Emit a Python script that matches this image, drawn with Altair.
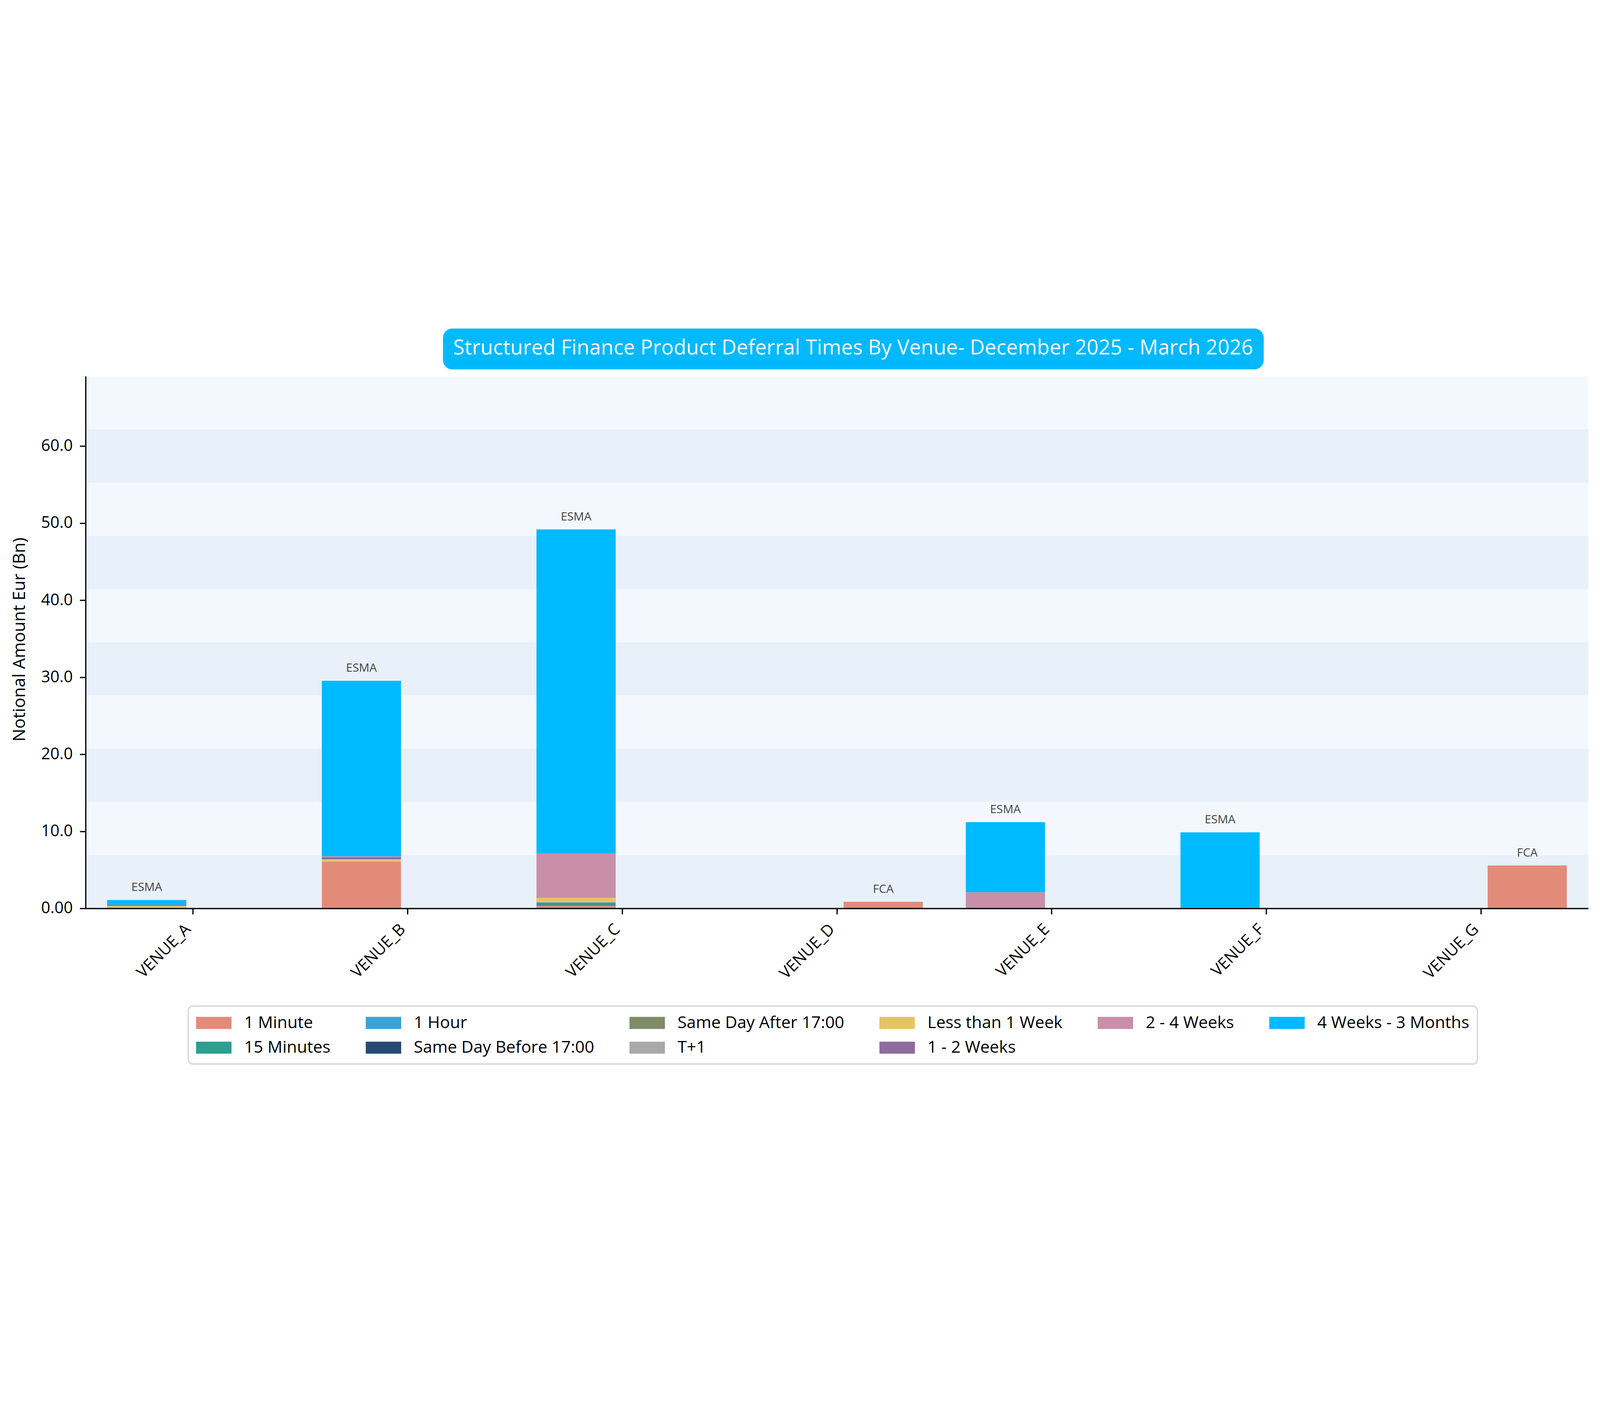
import altair as alt
import pandas as pd

FONT = "Open Sans"

venues = ["VENUE_A", "VENUE_B", "VENUE_C", "VENUE_D", "VENUE_E", "VENUE_F", "VENUE_G"]
regulators = ["ESMA", "ESMA", "ESMA", "FCA", "ESMA", "ESMA", "FCA"]
regulator_domain = ["ESMA", "FCA"]

categories = [
    "1 Minute", "15 Minutes", "1 Hour", "Same Day Before 17:00",
    "Same Day After 17:00", "T+1", "Less than 1 Week", "1 - 2 Weeks",
    "2 - 4 Weeks", "4 Weeks - 3 Months",
]
category_colors = [
    "#e38b79", "#2d9e8f", "#3ba3d4", "#264a73",
    "#7f8c66", "#a9a9a9", "#e3c567", "#8f6b9e",
    "#c98fa8", "#00baff",
]

# values (EUR bn) per category, in venue order
v_1min = [0.00, 6.06, 0.33, 0.87, 0.03, 0.14, 5.58]
v_15min = [0.00, 0.03, 0.37, 0.00, 0.00, 0.00, 0.00]
v_1hour = [0.00, 0.00, 0.07, 0.00, 0.00, 0.00, 0.00]
v_sd_before = [0.00, 0.00, 0.00, 0.00, 0.00, 0.00, 0.00]
v_sd_after = [0.00, 0.00, 0.03, 0.00, 0.00, 0.00, 0.00]
v_t1 = [0.00, 0.00, 0.02, 0.00, 0.00, 0.00, 0.00]
v_lt1w = [0.34, 0.29, 0.58, 0.00, 0.00, 0.00, 0.00]
v_1_2w = [0.15, 0.25, 0.05, 0.00, 0.00, 0.00, 0.00]
v_2_4w = [0.00, 0.14, 5.68, 0.00, 2.08, 0.00, 0.00]
v_4w_3m = [0.61, 22.78, 42.07, 0.00, 9.09, 9.74, 0.00]
series = [v_1min, v_15min, v_1hour, v_sd_before, v_sd_after, v_t1,
          v_lt1w, v_1_2w, v_2_4w, v_4w_3m]

# domain order chosen so Vega's column-major legend fill reads like the original:
# row 1: 1 Minute, 1 Hour, Same Day After, Less than 1 Week, 2 - 4 Weeks, 4 Weeks - 3 Months
# row 2: 15 Minutes, Same Day Before, T+1, 1 - 2 Weeks
legend_order = [
    "1 Minute", "4 Weeks - 3 Months", "1 Hour", "15 Minutes",
    "Same Day After 17:00", "Same Day Before 17:00", "Less than 1 Week", "T+1",
    "2 - 4 Weeks", "1 - 2 Weeks",
]
legend_colors = [category_colors[categories.index(c)] for c in legend_order]

y_ticks = [0, 10, 20, 30, 40, 50, 60]
y_max = 69.07
n_bands = 10

title_text = "Structured Finance Product Deferral Times By Venue- December 2025 - March 2026"
y_title = "Notional Amount Eur (Bn)"

rows = []
for ci, (cat, vals) in enumerate(zip(categories, series)):
    for vi, v in enumerate(venues):
        if vals[vi] > 0:
            rows.append({"venue": v, "regulator": regulators[vi], "category": cat,
                         "order": ci, "value": vals[vi]})
df = pd.DataFrame(rows)

band_h = y_max / n_bands
band_df = pd.DataFrame({
    "y0": [i * band_h for i in range(0, n_bands, 2)],
    "y1": [(i + 1) * band_h for i in range(0, n_bands, 2)],
})

W = 7208
H = 2552

x_scale = alt.Scale(domain=venues, paddingInner=0, paddingOuter=0)
xo_scale = alt.Scale(domain=regulator_domain, paddingInner=0.144, paddingOuter=0.232)
y_scale = alt.Scale(domain=[0, y_max], nice=False, zero=True)

x_axis = alt.Axis(title=None, labelAngle=-45, labelAlign="right",
                  labelBaseline="top", labelPadding=33, labelOffset=-50,
                  labelLimit=2000, labelFontSize=77, labelOverlap=False, zindex=1)
y_axis = alt.Axis(title=y_title, values=y_ticks,
                  labelExpr="datum.value == 0 ? '0.00' : format(datum.value, '.1f')",
                  labelFontSize=77, labelPadding=34, zindex=1,
                  titleFontSize=82, titleFontWeight="normal",
                  titleX=-316, titleY=1262, titleAngle=270,
                  titleAlign="center", titleBaseline="middle")

bands = alt.Chart(band_df).mark_rect(color="#e8f0f9").encode(
    x=alt.value(0), x2=alt.value(W),
    y=alt.Y("y0:Q", scale=y_scale, axis=y_axis), y2="y1:Q",
)

bars = alt.Chart(df).mark_bar().encode(
    x=alt.X("venue:N", sort=venues, scale=x_scale, axis=x_axis),
    xOffset=alt.XOffset("regulator:N", scale=xo_scale),
    y=alt.Y("value:Q", stack="zero", scale=y_scale, axis=y_axis),
    color=alt.Color("category:N",
                    scale=alt.Scale(domain=legend_order, range=legend_colors),
                    legend=alt.Legend(orient="none", legendX=492, legendY=3020,
                                      columns=6, title=None,
                                      symbolType="M-2,-0.68H2V0.68H-2Z",
                                      symbolSize=7225, symbolStrokeWidth=0,
                                      symbolOffset=42, symbolOpacity=1,
                                      labelFontSize=80, labelOffset=103,
                                      labelLimit=3000, labelColor="black",
                                      columnPadding=168, rowPadding=36,
                                      padding=38, strokeColor="#d4d4d4",
                                      fillColor="white", cornerRadius=22)),
    order=alt.Order("order:Q", sort="ascending"),
)

labels = alt.Chart(df).transform_aggregate(
    total="sum(value)", groupby=["venue", "regulator"]
).mark_text(dy=-43, baseline="alphabetic", align="center", fontSize=56,
            color="#444444", font=FONT).encode(
    x=alt.X("venue:N", sort=venues, scale=x_scale, axis=x_axis),
    xOffset=alt.XOffset("regulator:N", scale=xo_scale),
    y=alt.Y("total:Q", scale=y_scale, axis=y_axis),
    text="regulator:N",
)

title_df = pd.DataFrame({"t": [title_text]})
title_box = alt.Chart(title_df).mark_rect(color="#02b9fd", cornerRadius=45).encode(
    x=alt.value(1714), x2=alt.value(5651), y=alt.value(-229), y2=alt.value(-33),
)
title_label = alt.Chart(title_df).mark_text(
    color="white", fontSize=99, font=FONT, align="center", baseline="alphabetic"
).encode(x=alt.value(3682), y=alt.value(-104), text="t:N")

chart = alt.layer(bands, bars, labels, title_box, title_label).properties(
    width=W, height=H,
    padding={"left": 396, "top": 230, "right": 41, "bottom": 787},
    autosize=alt.AutoSizeParams(type="none"),
).configure_view(
    stroke=None, fill="#f3f8fe"
).configure_axis(
    domainColor="black", domainWidth=6, tickColor="black", tickWidth=6,
    tickSize=28, grid=False, labelFont=FONT, titleFont=FONT,
    labelColor="black", titleColor="black",
).configure_legend(
    labelFont=FONT, strokeWidth=6,
)

chart.save("out.html", embed_options={"renderer": "svg", "actions": False})
